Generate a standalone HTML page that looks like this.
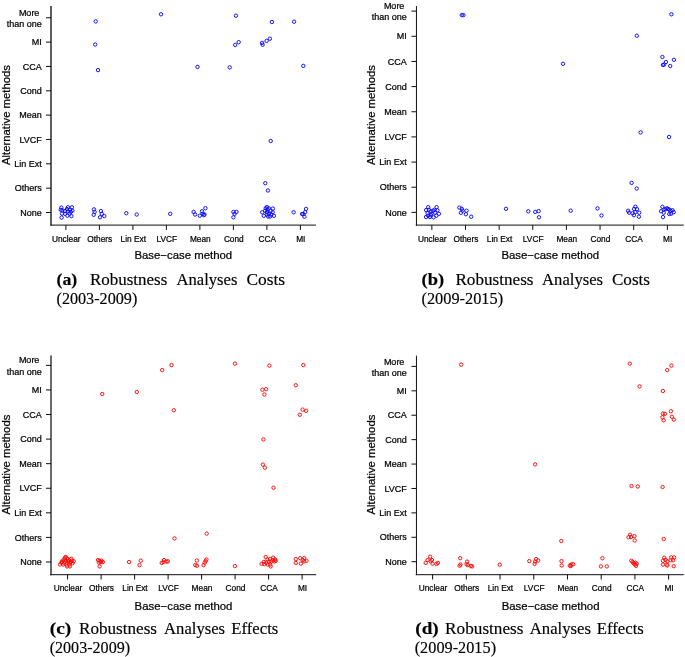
<!DOCTYPE html>
<html lang="en"><head><meta charset="utf-8"><title>Robustness Analyses</title>
<style>html,body{margin:0;padding:0;background:#fff}svg{display:block}</style></head>
<body>
<svg width="685" height="657" viewBox="0 0 685 657">
<rect width="685" height="657" fill="#fff"/>
<g stroke="#000" stroke-width="0.95" fill="none">
<path d="M51.0 6.0V225.54999999999998" stroke-width="1.35" stroke="#111"/>
<path d="M50.3 225.1H315.9"/>
<path d="M65.90 225.1v4.8M99.40 225.1v4.8M132.90 225.1v4.8M166.40 225.1v4.8M199.90 225.1v4.8M233.40 225.1v4.8M266.90 225.1v4.8M300.40 225.1v4.8M51.0 212.50h-5M51.0 188.16h-5M51.0 163.82h-5M51.0 139.48h-5M51.0 115.14h-5M51.0 90.80h-5M51.0 66.46h-5M51.0 42.12h-5M51.0 17.78h-5"/>
</g>
<g font-family="'Liberation Sans',Arial,sans-serif" fill="#000" stroke="#000" stroke-width="0.22">
<g font-size="8.3" text-anchor="middle">
<text x="66.30" y="241.5">Unclear</text>
<text x="99.80" y="241.5">Others</text>
<text x="133.30" y="241.5">Lin Ext</text>
<text x="166.80" y="241.5">LVCF</text>
<text x="200.30" y="241.5">Mean</text>
<text x="233.80" y="241.5">Cond</text>
<text x="267.30" y="241.5">CCA</text>
<text x="300.80" y="241.5">MI</text>
</g>
<g font-size="9" text-anchor="end">
<text x="41.8" y="215.70">None</text>
<text x="41.8" y="191.36">Others</text>
<text x="41.8" y="167.02">Lin Ext</text>
<text x="41.8" y="142.68">LVCF</text>
<text x="41.8" y="118.34">Mean</text>
<text x="41.8" y="94.00">Cond</text>
<text x="41.8" y="69.66">CCA</text>
<text x="41.8" y="45.32">MI</text>
<text x="39.4" y="15.88">More</text>
<text x="41.8" y="26.98">than one</text>
</g>
<text font-size="11.4" text-anchor="middle" x="183.3" y="259.3">Base−case method</text>
<text font-size="11.3" text-anchor="middle" transform="translate(9.6 115.0) rotate(-90)">Alternative methods</text>
</g>
<g fill="none" stroke="#0a0aff" stroke-width="0.95">
<circle cx="95.7" cy="21.4" r="1.7"/>
<circle cx="161.0" cy="14.3" r="1.7"/>
<circle cx="95.2" cy="44.5" r="1.7"/>
<circle cx="98.0" cy="70.1" r="1.7"/>
<circle cx="235.9" cy="15.7" r="1.7"/>
<circle cx="271.9" cy="22.0" r="1.7"/>
<circle cx="294.1" cy="21.7" r="1.7"/>
<circle cx="238.7" cy="42.2" r="1.7"/>
<circle cx="235.2" cy="44.9" r="1.7"/>
<circle cx="262.1" cy="42.9" r="1.7"/>
<circle cx="262.6" cy="44.7" r="1.7"/>
<circle cx="266.6" cy="40.9" r="1.7"/>
<circle cx="269.9" cy="38.7" r="1.7"/>
<circle cx="197.5" cy="66.9" r="1.7"/>
<circle cx="229.7" cy="67.4" r="1.7"/>
<circle cx="303.3" cy="65.9" r="1.7"/>
<circle cx="61.3" cy="207.6" r="1.7"/>
<circle cx="67.9" cy="207.3" r="1.7"/>
<circle cx="72.0" cy="207.3" r="1.7"/>
<circle cx="60.7" cy="209.8" r="1.7"/>
<circle cx="62.4" cy="210.3" r="1.7"/>
<circle cx="67.0" cy="209.1" r="1.7"/>
<circle cx="70.1" cy="209.8" r="1.7"/>
<circle cx="72.4" cy="210.7" r="1.7"/>
<circle cx="65.1" cy="211.1" r="1.7"/>
<circle cx="67.9" cy="211.3" r="1.7"/>
<circle cx="70.8" cy="211.9" r="1.7"/>
<circle cx="62.0" cy="213.6" r="1.7"/>
<circle cx="65.1" cy="213.8" r="1.7"/>
<circle cx="69.5" cy="213.6" r="1.7"/>
<circle cx="61.6" cy="217.6" r="1.7"/>
<circle cx="67.4" cy="215.7" r="1.7"/>
<circle cx="71.4" cy="216.1" r="1.7"/>
<circle cx="94.0" cy="209.4" r="1.7"/>
<circle cx="94.6" cy="211.9" r="1.7"/>
<circle cx="93.7" cy="214.8" r="1.7"/>
<circle cx="100.9" cy="211.1" r="1.7"/>
<circle cx="101.8" cy="213.8" r="1.7"/>
<circle cx="100.0" cy="217.3" r="1.7"/>
<circle cx="104.3" cy="216.1" r="1.7"/>
<circle cx="126.3" cy="213.2" r="1.7"/>
<circle cx="136.7" cy="214.5" r="1.7"/>
<circle cx="170.2" cy="213.8" r="1.7"/>
<circle cx="193.6" cy="211.9" r="1.7"/>
<circle cx="195.1" cy="214.5" r="1.7"/>
<circle cx="199.8" cy="215.7" r="1.7"/>
<circle cx="202.0" cy="211.3" r="1.7"/>
<circle cx="202.6" cy="213.8" r="1.7"/>
<circle cx="204.5" cy="214.5" r="1.7"/>
<circle cx="205.4" cy="208.2" r="1.7"/>
<circle cx="203.8" cy="215.1" r="1.7"/>
<circle cx="233.4" cy="211.9" r="1.7"/>
<circle cx="236.5" cy="211.9" r="1.7"/>
<circle cx="234.6" cy="213.8" r="1.7"/>
<circle cx="233.4" cy="217.3" r="1.7"/>
<circle cx="265.3" cy="183.2" r="1.7"/>
<circle cx="267.9" cy="190.5" r="1.7"/>
<circle cx="262.2" cy="212.3" r="1.7"/>
<circle cx="263.8" cy="215.8" r="1.7"/>
<circle cx="265.7" cy="208.3" r="1.7"/>
<circle cx="266.9" cy="207.1" r="1.7"/>
<circle cx="267.6" cy="209.6" r="1.7"/>
<circle cx="268.8" cy="208.3" r="1.7"/>
<circle cx="266.9" cy="212.1" r="1.7"/>
<circle cx="268.8" cy="214.0" r="1.7"/>
<circle cx="270.1" cy="216.5" r="1.7"/>
<circle cx="268.2" cy="216.5" r="1.7"/>
<circle cx="271.3" cy="214.6" r="1.7"/>
<circle cx="272.6" cy="212.1" r="1.7"/>
<circle cx="272.9" cy="208.6" r="1.7"/>
<circle cx="273.9" cy="215.8" r="1.7"/>
<circle cx="270.7" cy="210.8" r="1.7"/>
<circle cx="265.1" cy="210.8" r="1.7"/>
<circle cx="266.9" cy="214.6" r="1.7"/>
<circle cx="293.6" cy="212.3" r="1.7"/>
<circle cx="302.1" cy="214.0" r="1.7"/>
<circle cx="303.4" cy="214.2" r="1.7"/>
<circle cx="304.4" cy="216.7" r="1.7"/>
<circle cx="305.2" cy="212.1" r="1.7"/>
<circle cx="306.1" cy="208.9" r="1.7"/>
<circle cx="270.7" cy="141.0" r="1.7"/>
</g>
<g stroke="#000" stroke-width="0.95" fill="none">
<path d="M416.45 6.0V225.54999999999998" stroke-width="1.0" stroke="#111"/>
<path d="M415.75 225.1H683.7"/>
<path d="M431.85 225.1v4.8M465.49 225.1v4.8M499.13 225.1v4.8M532.77 225.1v4.8M566.41 225.1v4.8M600.05 225.1v4.8M633.69 225.1v4.8M667.33 225.1v4.8M416.45 212.40h-5M416.45 187.24h-5M416.45 162.08h-5M416.45 136.92h-5M416.45 111.76h-5M416.45 86.60h-5M416.45 61.44h-5M416.45 36.28h-5M416.45 11.12h-5"/>
</g>
<g font-family="'Liberation Sans',Arial,sans-serif" fill="#000" stroke="#000" stroke-width="0.22">
<g font-size="8.3" text-anchor="middle">
<text x="432.25" y="241.5">Unclear</text>
<text x="465.89" y="241.5">Others</text>
<text x="499.53" y="241.5">Lin Ext</text>
<text x="533.17" y="241.5">LVCF</text>
<text x="566.81" y="241.5">Mean</text>
<text x="600.45" y="241.5">Cond</text>
<text x="634.09" y="241.5">CCA</text>
<text x="667.73" y="241.5">MI</text>
</g>
<g font-size="9" text-anchor="end">
<text x="406.8" y="215.60">None</text>
<text x="406.8" y="190.44">Others</text>
<text x="406.8" y="165.28">Lin Ext</text>
<text x="406.8" y="140.12">LVCF</text>
<text x="406.8" y="114.96">Mean</text>
<text x="406.8" y="89.80">Cond</text>
<text x="406.8" y="64.64">CCA</text>
<text x="406.8" y="39.48">MI</text>
<text x="404.40000000000003" y="9.22">More</text>
<text x="406.8" y="20.32">than one</text>
</g>
<text font-size="11.4" text-anchor="middle" x="550.3" y="259.3">Base−case method</text>
<text font-size="11.3" text-anchor="middle" transform="translate(374.6 115.0) rotate(-90)">Alternative methods</text>
</g>
<g fill="none" stroke="#0a0aff" stroke-width="0.95">
<circle cx="461.8" cy="15.1" r="1.7"/>
<circle cx="463.4" cy="15.1" r="1.7"/>
<circle cx="671.4" cy="14.3" r="1.7"/>
<circle cx="636.8" cy="35.7" r="1.7"/>
<circle cx="563.0" cy="63.8" r="1.7"/>
<circle cx="662.4" cy="57.0" r="1.7"/>
<circle cx="673.9" cy="59.8" r="1.7"/>
<circle cx="665.9" cy="62.0" r="1.7"/>
<circle cx="662.9" cy="65.0" r="1.7"/>
<circle cx="664.1" cy="64.5" r="1.7"/>
<circle cx="670.2" cy="66.0" r="1.7"/>
<circle cx="428.2" cy="207.2" r="1.7"/>
<circle cx="436.6" cy="207.2" r="1.7"/>
<circle cx="426.1" cy="210.1" r="1.7"/>
<circle cx="428.9" cy="209.8" r="1.7"/>
<circle cx="434.5" cy="209.8" r="1.7"/>
<circle cx="437.4" cy="210.3" r="1.7"/>
<circle cx="430.7" cy="211.3" r="1.7"/>
<circle cx="433.2" cy="210.7" r="1.7"/>
<circle cx="427.6" cy="213.2" r="1.7"/>
<circle cx="431.4" cy="213.8" r="1.7"/>
<circle cx="435.1" cy="212.6" r="1.7"/>
<circle cx="438.9" cy="213.8" r="1.7"/>
<circle cx="426.1" cy="217.0" r="1.7"/>
<circle cx="428.2" cy="215.7" r="1.7"/>
<circle cx="430.7" cy="215.1" r="1.7"/>
<circle cx="433.6" cy="217.3" r="1.7"/>
<circle cx="436.4" cy="215.7" r="1.7"/>
<circle cx="430.1" cy="217.0" r="1.7"/>
<circle cx="459.4" cy="207.6" r="1.7"/>
<circle cx="461.8" cy="208.8" r="1.7"/>
<circle cx="462.5" cy="210.7" r="1.7"/>
<circle cx="460.9" cy="212.8" r="1.7"/>
<circle cx="466.5" cy="210.7" r="1.7"/>
<circle cx="465.9" cy="214.2" r="1.7"/>
<circle cx="471.2" cy="216.7" r="1.7"/>
<circle cx="506.0" cy="208.8" r="1.7"/>
<circle cx="528.3" cy="211.3" r="1.7"/>
<circle cx="535.2" cy="211.9" r="1.7"/>
<circle cx="538.6" cy="211.1" r="1.7"/>
<circle cx="539.0" cy="217.3" r="1.7"/>
<circle cx="570.7" cy="210.7" r="1.7"/>
<circle cx="597.5" cy="208.4" r="1.7"/>
<circle cx="601.5" cy="215.5" r="1.7"/>
<circle cx="631.6" cy="182.9" r="1.7"/>
<circle cx="636.7" cy="188.5" r="1.7"/>
<circle cx="628.1" cy="210.8" r="1.7"/>
<circle cx="629.1" cy="212.7" r="1.7"/>
<circle cx="632.6" cy="213.3" r="1.7"/>
<circle cx="633.9" cy="215.2" r="1.7"/>
<circle cx="634.1" cy="208.9" r="1.7"/>
<circle cx="635.4" cy="206.7" r="1.7"/>
<circle cx="637.0" cy="209.2" r="1.7"/>
<circle cx="635.4" cy="212.1" r="1.7"/>
<circle cx="639.2" cy="212.7" r="1.7"/>
<circle cx="638.9" cy="216.7" r="1.7"/>
<circle cx="662.4" cy="206.8" r="1.7"/>
<circle cx="661.1" cy="211.2" r="1.7"/>
<circle cx="663.7" cy="209.6" r="1.7"/>
<circle cx="663.7" cy="212.7" r="1.7"/>
<circle cx="663.0" cy="217.1" r="1.7"/>
<circle cx="666.8" cy="208.3" r="1.7"/>
<circle cx="668.0" cy="208.9" r="1.7"/>
<circle cx="669.3" cy="209.6" r="1.7"/>
<circle cx="670.6" cy="210.8" r="1.7"/>
<circle cx="672.5" cy="210.2" r="1.7"/>
<circle cx="673.7" cy="212.1" r="1.7"/>
<circle cx="669.3" cy="214.0" r="1.7"/>
<circle cx="671.2" cy="213.7" r="1.7"/>
<circle cx="665.5" cy="209.2" r="1.7"/>
<circle cx="640.6" cy="132.4" r="1.7"/>
<circle cx="669.1" cy="137.0" r="1.7"/>
</g>
<g stroke="#000" stroke-width="0.95" fill="none">
<path d="M51.0 355.6V575.1500000000001" stroke-width="1.25" stroke="#111"/>
<path d="M50.3 574.7H316.2"/>
<path d="M67.60 574.7v4.8M101.10 574.7v4.8M134.60 574.7v4.8M168.10 574.7v4.8M201.60 574.7v4.8M235.10 574.7v4.8M268.60 574.7v4.8M302.10 574.7v4.8M51.0 562.00h-5M51.0 537.42h-5M51.0 512.84h-5M51.0 488.26h-5M51.0 463.68h-5M51.0 439.10h-5M51.0 414.52h-5M51.0 389.94h-5M51.0 365.36h-5"/>
</g>
<g font-family="'Liberation Sans',Arial,sans-serif" fill="#000" stroke="#000" stroke-width="0.22">
<g font-size="8.3" text-anchor="middle">
<text x="68.00" y="590.8">Unclear</text>
<text x="101.50" y="590.8">Others</text>
<text x="135.00" y="590.8">Lin Ext</text>
<text x="168.50" y="590.8">LVCF</text>
<text x="202.00" y="590.8">Mean</text>
<text x="235.50" y="590.8">Cond</text>
<text x="269.00" y="590.8">CCA</text>
<text x="302.50" y="590.8">MI</text>
</g>
<g font-size="9" text-anchor="end">
<text x="41.8" y="565.20">None</text>
<text x="41.8" y="540.62">Others</text>
<text x="41.8" y="516.04">Lin Ext</text>
<text x="41.8" y="491.46">LVCF</text>
<text x="41.8" y="466.88">Mean</text>
<text x="41.8" y="442.30">Cond</text>
<text x="41.8" y="417.72">CCA</text>
<text x="41.8" y="393.14">MI</text>
<text x="39.4" y="363.46">More</text>
<text x="41.8" y="374.56">than one</text>
</g>
<text font-size="11.4" text-anchor="middle" x="183.5" y="609.6">Base−case method</text>
<text font-size="11.3" text-anchor="middle" transform="translate(9.6 464.6) rotate(-90)">Alternative methods</text>
</g>
<g fill="none" stroke="#ff0a0a" stroke-width="0.95">
<circle cx="102.2" cy="394.0" r="1.7"/>
<circle cx="136.8" cy="392.0" r="1.7"/>
<circle cx="162.2" cy="370.1" r="1.7"/>
<circle cx="171.5" cy="365.1" r="1.7"/>
<circle cx="235.0" cy="363.6" r="1.7"/>
<circle cx="269.4" cy="365.6" r="1.7"/>
<circle cx="303.3" cy="365.1" r="1.7"/>
<circle cx="295.8" cy="385.2" r="1.7"/>
<circle cx="262.4" cy="389.7" r="1.7"/>
<circle cx="266.1" cy="389.2" r="1.7"/>
<circle cx="264.4" cy="394.5" r="1.7"/>
<circle cx="173.8" cy="410.3" r="1.7"/>
<circle cx="302.6" cy="409.6" r="1.7"/>
<circle cx="306.1" cy="410.8" r="1.7"/>
<circle cx="299.8" cy="414.8" r="1.7"/>
<circle cx="263.4" cy="439.4" r="1.7"/>
<circle cx="65.7" cy="557.0" r="1.7"/>
<circle cx="64.5" cy="558.8" r="1.7"/>
<circle cx="67.6" cy="558.8" r="1.7"/>
<circle cx="71.4" cy="558.8" r="1.7"/>
<circle cx="62.6" cy="560.7" r="1.7"/>
<circle cx="65.7" cy="560.7" r="1.7"/>
<circle cx="68.9" cy="560.1" r="1.7"/>
<circle cx="72.0" cy="560.7" r="1.7"/>
<circle cx="73.7" cy="561.3" r="1.7"/>
<circle cx="61.3" cy="562.6" r="1.7"/>
<circle cx="63.9" cy="562.6" r="1.7"/>
<circle cx="67.0" cy="562.6" r="1.7"/>
<circle cx="70.1" cy="562.6" r="1.7"/>
<circle cx="72.6" cy="563.2" r="1.7"/>
<circle cx="60.1" cy="564.5" r="1.7"/>
<circle cx="63.2" cy="564.5" r="1.7"/>
<circle cx="66.4" cy="564.5" r="1.7"/>
<circle cx="69.5" cy="564.5" r="1.7"/>
<circle cx="67.0" cy="566.4" r="1.7"/>
<circle cx="69.9" cy="566.4" r="1.7"/>
<circle cx="65.1" cy="557.6" r="1.7"/>
<circle cx="68.2" cy="561.3" r="1.7"/>
<circle cx="70.8" cy="562.0" r="1.7"/>
<circle cx="62.0" cy="562.0" r="1.7"/>
<circle cx="98.0" cy="560.1" r="1.7"/>
<circle cx="99.6" cy="560.7" r="1.7"/>
<circle cx="101.5" cy="560.7" r="1.7"/>
<circle cx="102.8" cy="562.0" r="1.7"/>
<circle cx="99.0" cy="562.6" r="1.7"/>
<circle cx="100.9" cy="562.0" r="1.7"/>
<circle cx="99.6" cy="566.4" r="1.7"/>
<circle cx="129.1" cy="562.0" r="1.7"/>
<circle cx="140.8" cy="560.7" r="1.7"/>
<circle cx="139.5" cy="565.1" r="1.7"/>
<circle cx="161.7" cy="562.9" r="1.7"/>
<circle cx="163.4" cy="562.0" r="1.7"/>
<circle cx="164.0" cy="560.1" r="1.7"/>
<circle cx="166.5" cy="561.6" r="1.7"/>
<circle cx="167.8" cy="561.3" r="1.7"/>
<circle cx="196.9" cy="560.5" r="1.7"/>
<circle cx="195.3" cy="565.1" r="1.7"/>
<circle cx="196.9" cy="565.7" r="1.7"/>
<circle cx="203.5" cy="565.1" r="1.7"/>
<circle cx="204.7" cy="562.6" r="1.7"/>
<circle cx="206.4" cy="559.5" r="1.7"/>
<circle cx="205.6" cy="561.1" r="1.7"/>
<circle cx="234.9" cy="566.1" r="1.7"/>
<circle cx="265.7" cy="557.0" r="1.7"/>
<circle cx="267.6" cy="559.5" r="1.7"/>
<circle cx="270.1" cy="558.9" r="1.7"/>
<circle cx="273.2" cy="557.6" r="1.7"/>
<circle cx="275.1" cy="559.5" r="1.7"/>
<circle cx="274.5" cy="561.4" r="1.7"/>
<circle cx="271.3" cy="561.4" r="1.7"/>
<circle cx="268.8" cy="562.0" r="1.7"/>
<circle cx="266.3" cy="562.6" r="1.7"/>
<circle cx="263.8" cy="562.0" r="1.7"/>
<circle cx="261.6" cy="563.9" r="1.7"/>
<circle cx="264.4" cy="564.1" r="1.7"/>
<circle cx="267.6" cy="564.5" r="1.7"/>
<circle cx="270.1" cy="564.5" r="1.7"/>
<circle cx="270.7" cy="566.4" r="1.7"/>
<circle cx="272.6" cy="560.1" r="1.7"/>
<circle cx="275.7" cy="560.8" r="1.7"/>
<circle cx="295.8" cy="559.1" r="1.7"/>
<circle cx="300.2" cy="558.2" r="1.7"/>
<circle cx="304.2" cy="558.2" r="1.7"/>
<circle cx="295.8" cy="562.9" r="1.7"/>
<circle cx="300.9" cy="563.6" r="1.7"/>
<circle cx="304.0" cy="561.4" r="1.7"/>
<circle cx="306.5" cy="560.8" r="1.7"/>
<circle cx="302.7" cy="560.1" r="1.7"/>
<circle cx="262.9" cy="464.6" r="1.7"/>
<circle cx="264.9" cy="467.6" r="1.7"/>
<circle cx="273.5" cy="487.7" r="1.7"/>
<circle cx="174.5" cy="538.4" r="1.7"/>
<circle cx="206.7" cy="533.6" r="1.7"/>
</g>
<g stroke="#000" stroke-width="0.95" fill="none">
<path d="M416.45 355.6V575.1500000000001" stroke-width="1.0" stroke="#111"/>
<path d="M415.75 574.7H683.7"/>
<path d="M432.60 574.7v4.8M466.32 574.7v4.8M500.04 574.7v4.8M533.76 574.7v4.8M567.48 574.7v4.8M601.20 574.7v4.8M634.92 574.7v4.8M668.64 574.7v4.8M416.45 561.70h-5M416.45 537.29h-5M416.45 512.88h-5M416.45 488.47h-5M416.45 464.06h-5M416.45 439.65h-5M416.45 415.24h-5M416.45 390.83h-5M416.45 366.42h-5"/>
</g>
<g font-family="'Liberation Sans',Arial,sans-serif" fill="#000" stroke="#000" stroke-width="0.22">
<g font-size="8.3" text-anchor="middle">
<text x="433.00" y="590.8">Unclear</text>
<text x="466.72" y="590.8">Others</text>
<text x="500.44" y="590.8">Lin Ext</text>
<text x="534.16" y="590.8">LVCF</text>
<text x="567.88" y="590.8">Mean</text>
<text x="601.60" y="590.8">Cond</text>
<text x="635.32" y="590.8">CCA</text>
<text x="669.04" y="590.8">MI</text>
</g>
<g font-size="9" text-anchor="end">
<text x="406.8" y="564.90">None</text>
<text x="406.8" y="540.49">Others</text>
<text x="406.8" y="516.08">Lin Ext</text>
<text x="406.8" y="491.67">LVCF</text>
<text x="406.8" y="467.26">Mean</text>
<text x="406.8" y="442.85">Cond</text>
<text x="406.8" y="418.44">CCA</text>
<text x="406.8" y="394.03">MI</text>
<text x="404.40000000000003" y="364.52">More</text>
<text x="406.8" y="375.62">than one</text>
</g>
<text font-size="11.4" text-anchor="middle" x="550.6" y="609.6">Base−case method</text>
<text font-size="11.3" text-anchor="middle" transform="translate(374.6 464.6) rotate(-90)">Alternative methods</text>
</g>
<g fill="none" stroke="#ff0a0a" stroke-width="0.95">
<circle cx="461.2" cy="364.6" r="1.7"/>
<circle cx="629.8" cy="363.6" r="1.7"/>
<circle cx="671.4" cy="365.6" r="1.7"/>
<circle cx="667.2" cy="370.1" r="1.7"/>
<circle cx="639.5" cy="386.4" r="1.7"/>
<circle cx="662.9" cy="391.0" r="1.7"/>
<circle cx="670.9" cy="411.3" r="1.7"/>
<circle cx="662.9" cy="413.6" r="1.7"/>
<circle cx="664.9" cy="413.8" r="1.7"/>
<circle cx="662.4" cy="417.3" r="1.7"/>
<circle cx="671.9" cy="416.8" r="1.7"/>
<circle cx="663.6" cy="420.3" r="1.7"/>
<circle cx="673.9" cy="419.6" r="1.7"/>
<circle cx="430.1" cy="556.7" r="1.7"/>
<circle cx="427.6" cy="560.1" r="1.7"/>
<circle cx="432.0" cy="560.1" r="1.7"/>
<circle cx="425.7" cy="562.9" r="1.7"/>
<circle cx="430.7" cy="561.3" r="1.7"/>
<circle cx="432.6" cy="563.6" r="1.7"/>
<circle cx="436.4" cy="563.9" r="1.7"/>
<circle cx="437.9" cy="562.9" r="1.7"/>
<circle cx="460.2" cy="558.2" r="1.7"/>
<circle cx="459.6" cy="565.7" r="1.7"/>
<circle cx="460.5" cy="564.5" r="1.7"/>
<circle cx="467.1" cy="561.6" r="1.7"/>
<circle cx="466.5" cy="564.1" r="1.7"/>
<circle cx="467.8" cy="565.1" r="1.7"/>
<circle cx="470.9" cy="566.1" r="1.7"/>
<circle cx="472.2" cy="566.4" r="1.7"/>
<circle cx="499.8" cy="564.7" r="1.7"/>
<circle cx="529.3" cy="561.1" r="1.7"/>
<circle cx="534.6" cy="563.9" r="1.7"/>
<circle cx="535.2" cy="561.6" r="1.7"/>
<circle cx="536.1" cy="559.1" r="1.7"/>
<circle cx="538.1" cy="560.5" r="1.7"/>
<circle cx="561.5" cy="561.1" r="1.7"/>
<circle cx="561.7" cy="565.5" r="1.7"/>
<circle cx="561.3" cy="541.0" r="1.7"/>
<circle cx="569.8" cy="565.5" r="1.7"/>
<circle cx="571.3" cy="564.5" r="1.7"/>
<circle cx="573.2" cy="564.2" r="1.7"/>
<circle cx="570.7" cy="566.1" r="1.7"/>
<circle cx="602.4" cy="558.2" r="1.7"/>
<circle cx="600.9" cy="566.4" r="1.7"/>
<circle cx="606.8" cy="566.4" r="1.7"/>
<circle cx="628.5" cy="537.3" r="1.7"/>
<circle cx="630.1" cy="534.8" r="1.7"/>
<circle cx="631.0" cy="537.0" r="1.7"/>
<circle cx="634.4" cy="536.1" r="1.7"/>
<circle cx="634.7" cy="540.5" r="1.7"/>
<circle cx="663.7" cy="539.1" r="1.7"/>
<circle cx="631.4" cy="560.8" r="1.7"/>
<circle cx="632.6" cy="562.1" r="1.7"/>
<circle cx="633.9" cy="563.3" r="1.7"/>
<circle cx="634.8" cy="564.6" r="1.7"/>
<circle cx="636.0" cy="565.8" r="1.7"/>
<circle cx="636.7" cy="563.7" r="1.7"/>
<circle cx="635.4" cy="562.7" r="1.7"/>
<circle cx="664.3" cy="557.7" r="1.7"/>
<circle cx="663.0" cy="560.8" r="1.7"/>
<circle cx="665.5" cy="559.9" r="1.7"/>
<circle cx="667.4" cy="561.4" r="1.7"/>
<circle cx="663.0" cy="564.6" r="1.7"/>
<circle cx="666.8" cy="564.6" r="1.7"/>
<circle cx="671.2" cy="557.4" r="1.7"/>
<circle cx="674.1" cy="557.4" r="1.7"/>
<circle cx="670.6" cy="560.2" r="1.7"/>
<circle cx="673.1" cy="560.2" r="1.7"/>
<circle cx="673.7" cy="566.2" r="1.7"/>
<circle cx="667.4" cy="565.5" r="1.7"/>
<circle cx="535.1" cy="464.4" r="1.7"/>
<circle cx="631.5" cy="486.0" r="1.7"/>
<circle cx="637.8" cy="486.5" r="1.7"/>
<circle cx="662.6" cy="487.0" r="1.7"/>
</g>
<g font-family="'Liberation Serif','Times New Roman',serif" font-size="15.9" fill="#000" stroke="#000" stroke-width="0.15">
<text x="56.5" y="285.3" textLength="20.8" lengthAdjust="spacingAndGlyphs" font-weight="bold">(a)</text>
<text x="89.9" y="285.3" textLength="77.4" lengthAdjust="spacingAndGlyphs">Robustness</text>
<text x="176.6" y="285.3" textLength="60.8" lengthAdjust="spacingAndGlyphs">Analyses</text>
<text x="246.4" y="285.3" textLength="38.7" lengthAdjust="spacingAndGlyphs">Costs</text>
<text x="56.5" y="303.6" textLength="80.8" lengthAdjust="spacingAndGlyphs">(2003-2009)</text>
<text x="421.5" y="285.3" textLength="22.6" lengthAdjust="spacingAndGlyphs" font-weight="bold">(b)</text>
<text x="455.4" y="285.3" textLength="78.1" lengthAdjust="spacingAndGlyphs">Robustness</text>
<text x="542.1" y="285.3" textLength="61.0" lengthAdjust="spacingAndGlyphs">Analyses</text>
<text x="611.9" y="285.3" textLength="38.1" lengthAdjust="spacingAndGlyphs">Costs</text>
<text x="421.5" y="303.6" textLength="81.6" lengthAdjust="spacingAndGlyphs">(2009-2015)</text>
<text x="49.7" y="633.7" textLength="21.5" lengthAdjust="spacingAndGlyphs" font-weight="bold">(c)</text>
<text x="79.0" y="633.7" textLength="78.0" lengthAdjust="spacingAndGlyphs">Robustness</text>
<text x="164.1" y="633.7" textLength="61.0" lengthAdjust="spacingAndGlyphs">Analyses</text>
<text x="231.3" y="633.7" textLength="47.0" lengthAdjust="spacingAndGlyphs">Effects</text>
<text x="49.7" y="653.0" textLength="80.4" lengthAdjust="spacingAndGlyphs">(2003-2009)</text>
<text x="415.3" y="633.7" textLength="23.4" lengthAdjust="spacingAndGlyphs" font-weight="bold">(d)</text>
<text x="445.1" y="633.7" textLength="78.4" lengthAdjust="spacingAndGlyphs">Robustness</text>
<text x="529.8" y="633.7" textLength="61.2" lengthAdjust="spacingAndGlyphs">Analyses</text>
<text x="596.8" y="633.7" textLength="47.0" lengthAdjust="spacingAndGlyphs">Effects</text>
<text x="414.7" y="653.0" textLength="81.4" lengthAdjust="spacingAndGlyphs">(2009-2015)</text>
</g>
</svg>
</body></html>
